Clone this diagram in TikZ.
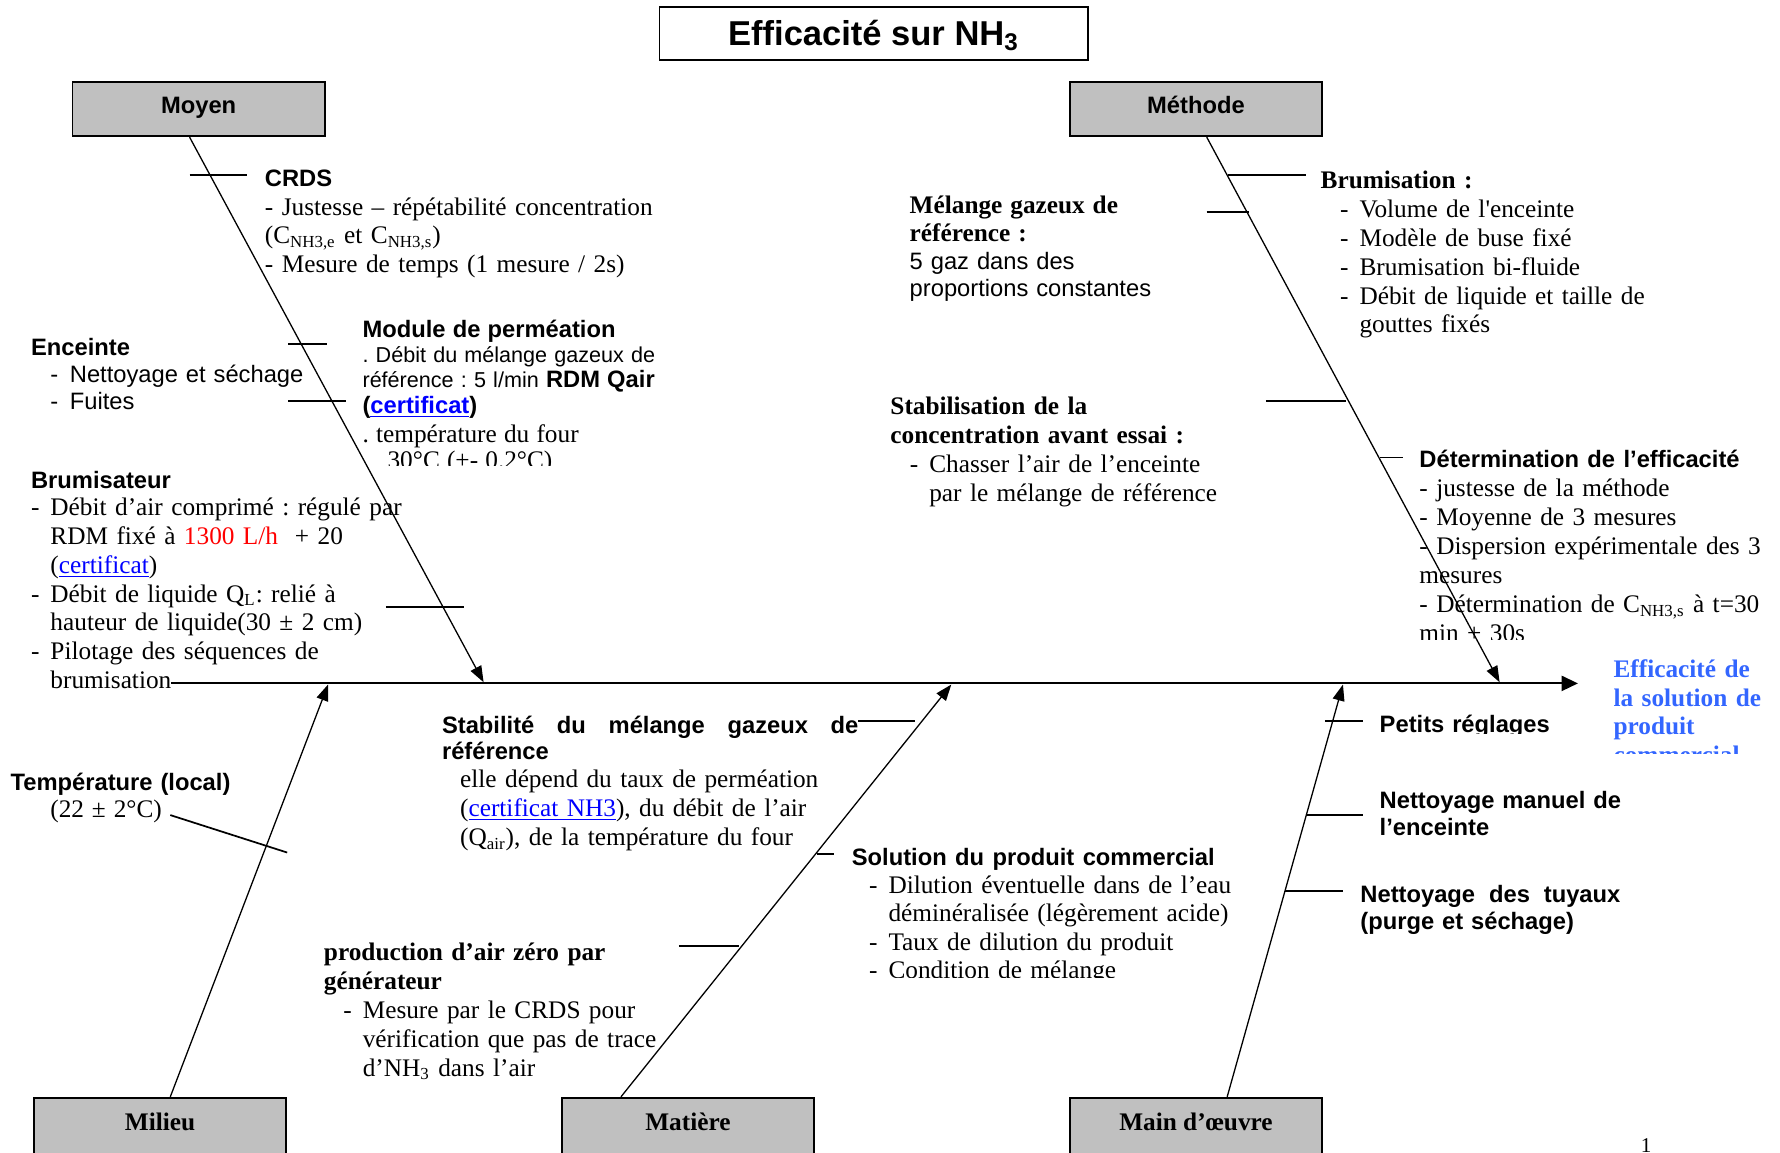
\documentclass[tikz,border=0pt]{standalone}
\usepackage{fontspec}
\setmainfont{Liberation Serif}[Scale=0.977]
\setsansfont{Liberation Sans}
\usetikzlibrary{arrows.meta,calc}

\definecolor{boxgray}{RGB}{192,192,192}
\definecolor{linkblue}{RGB}{0,0,255}
\definecolor{effblue}{RGB}{51,102,255}
\definecolor{valred}{RGB}{255,0,0}

\newcommand{\lnk}[1]{{\color{linkblue}\underline{#1}}}
\newcommand{\itm}{\makebox[9pt][l]{-}}
\newcommand{\hd}[1]{{\sffamily\bfseries\fontsize{11}{12.6}\selectfont #1}}
\newcommand{\bs}[1]{{\rmfamily\bfseries\fontsize{12}{13.4}\selectfont #1}}
\newcommand{\rs}[1]{{\rmfamily\fontsize{12}{13.4}\selectfont #1}}
\frenchspacing

\begin{document}
\begin{tikzpicture}[x=0.0185cm,y=-0.0185cm,
    catbox/.style={draw,line width=0.8pt,fill=boxgray,minimum width=117pt,
      minimum height=25.3pt,inner sep=0pt,text height=6.5pt,text depth=2.3pt,
      font=\sffamily\bfseries\fontsize{11}{13}\selectfont},
    catboxlow/.style={catbox,minimum height=27.4pt,text height=5pt,
      font=\rmfamily\bfseries\fontsize{12}{14}\selectfont},
    txt/.style={anchor=base west,inner sep=0pt,text width=240pt,align=left,
      font=\fontsize{12}{13.4}\selectfont},
    sanstxt/.style={txt,font=\sffamily\fontsize{11}{12.6}\selectfont},
    bone/.style={line width=0.6pt,-{Triangle[length=7.5pt,width=5.5pt]}},
    spine/.style={line width=1pt,-{Triangle[length=7.6pt,width=7pt]}},
    tick/.style={line width=0.8pt}]
  \useasboundingbox (0,0) rectangle (1568,1015);

  % title and the five categories
  \node[draw,line width=0.8pt,minimum width=198.5pt,minimum height=24.7pt,inner sep=0pt,
    text height=13pt,text depth=2pt,
    font=\sffamily\bfseries\fontsize{16}{18}\selectfont] (title) at (769.5,29.5)
    {Efficacité sur NH\textsubscript{3}};
  \node[catbox] (moyen) at (175,96) {Moyen};
  \node[catbox] (methode) at (1053.5,96) {Méthode};
  \node[catboxlow] (milieu) at (141,993) {Milieu};
  \node[catboxlow] (matiere) at (606,993) {Matière};
  \node[catboxlow] (mainoeuvre) at (1053.5,993) {Main d’œuvre};

  % spine and bones
  \coordinate (spineL) at (151,602);
  \coordinate (spineR) at (1390,602);
  \coordinate (moyenend) at (426,601);
  \coordinate (methodeend) at (1321,601);
  \coordinate (milieuend) at (289,603);
  \coordinate (matiereend) at (838,603);
  \coordinate (mainend) at (1183,603);
  \draw[spine] (spineL) -- (spineR);
  \draw[bone] ($(moyen.south)+(-8,0)$) -- (moyenend);
  \draw[bone] ($(methode.south)+(9.5,0)$) -- (methodeend);
  \draw[bone] ($(milieu.north)+(9,0)$) -- (milieuend);
  \draw[bone] ($(matiere.north)+(-59,0)$) -- (matiereend);
  \draw[bone] ($(mainoeuvre.north)+(27.5,0)$) -- (mainend);

  % small branches
  \draw[tick] (167,154) -- (218,154) (254,303) -- (288,303)
    (254,353) -- (305,353) (340,535) -- (409,535);
  \draw[tick] (1082,154) -- (1150,154) (1063,187) -- (1100,187)
    (1115,353) -- (1186,353) (1216,403) -- (1236,403);
  \draw[tick] (150,718) -- (253,751);
  \draw[tick] (756,635) -- (806,635) (598,833) -- (651,833) (720,752) -- (735,752);
  \draw[tick] (1167,635) -- (1201,635) (1150,718) -- (1201,718) (1132,785) -- (1183,785);

  % Moyen
  \node[txt] (crds) at (233,164) {\hd{CRDS}\\
    - Justesse – répétabilité concentration\\
    (C\textsubscript{NH3,e} et C\textsubscript{NH3,s})\\
    - Mesure de temps (1 mesure / 2s)};
  \begin{scope}
    \clip (300,260) rectangle (640,410);
    \node[txt,font=\sffamily\fontsize{10}{11.3}\selectfont] (module) at (319,297.5)
      {\hd{Module de perméation}\\
      . Débit du mélange gazeux de\\[0.5pt]
      référence : 5 l/min \hd{RDM Qair}\\[0.8pt]
      \hd{(\lnk{certificat})}\\[1.9pt]
      \rs{. température du four}\\[0.8pt]
      \rs{\hspace*{11.6pt}30°C (+- 0.2°C)}};
  \end{scope}
  \node[sanstxt] (enceinte) at (27,313) {\textbf{Enceinte}\\
    \hspace*{9pt}\itm Nettoyage et séchage\\
    \hspace*{9pt}\itm Fuites};
  \node[txt] (brumisateur) at (27,430) {\hd{Brumisateur}\\[-0.8pt]
    \itm Débit d’air comprimé : régulé par\\
    \hspace*{9pt}RDM fixé à {\color{valred}1300 L/h}\ \ + 20\\
    \hspace*{9pt}(\lnk{certificat})\\
    \itm Débit de liquide Q\textsubscript{L}: relié à\\
    \hspace*{9pt}hauteur de liquide(30 ± 2 cm)\\
    \itm Pilotage des séquences de\\
    \hspace*{9pt}brumisation};

  % Méthode
  \node[sanstxt] (melange) at (801,188) {\bs{Mélange gazeux de}\\[0.6pt]
    \bs{référence :}\\
    5 gaz dans des\\
    proportions constantes};
  \node[txt] (brumisation) at (1163,166) {\textbf{Brumisation :}\\
    \hspace*{9pt}\itm Volume de l\textquotesingle enceinte\\
    \hspace*{9pt}\itm Modèle de buse fixé\\
    \hspace*{9pt}\itm Brumisation bi-fluide\\
    \hspace*{9pt}\itm Débit de liquide et taille de\\
    \hspace*{18pt}gouttes fixés};
  \node[txt] (stabilisation) at (784,365) {\textbf{Stabilisation de la}\\
    \textbf{concentration avant essai :}\\
    \hspace*{9pt}\itm Chasser l’air de l’enceinte\\
    \hspace*{18pt}par le mélange de référence};
  \begin{scope}
    \clip (1240,380) rectangle (1568,563);
    \node[txt] (determination) at (1250,412) {\hd{Détermination de l’efficacité}\\
      - justesse de la méthode\\
      - Moyenne de 3 mesures\\
      - Dispersion expérimentale des 3\\
      mesures\\
      - Détermination de C\textsubscript{NH3,s} à t=30\\
      min + 30s};
  \end{scope}

  % effect
  \begin{scope}
    \clip (1410,570) rectangle (1568,664);
    \node[txt,font=\bfseries\fontsize{12}{13.4}\selectfont,text=effblue] (effet) at (1421,596.5)
      {Efficacité de\\ la solution de\\ produit\\ commercial};
  \end{scope}

  % Milieu
  \node[sanstxt] (temperature) at (9,696) {\textbf{Température (local)}\\
    \rs{\hspace*{18.4pt}(22 ± 2°C)}};

  % Matière
  \node[txt] (stabilite) at (389,646) {\hd{\makebox[193pt][s]{Stabilité\hfill du\hfill mélange\hfill gazeux\hfill de}}\\[-1.3pt]
    \hd{référence}\\[-0.2pt]
    \hspace*{8.4pt}elle dépend du taux de perméation\\[-0.2pt]
    \hspace*{8.4pt}(\lnk{certificat NH3}), du débit de l’air\\
    \hspace*{8.4pt}(Q\textsubscript{air}), de la température du four};
  \node[txt] (production) at (285,846) {\textbf{production d’air zéro par}\\
    \textbf{générateur}\\
    \hspace*{9pt}\itm Mesure par le CRDS pour\\
    \hspace*{18pt}vérification que pas de trace\\
    \hspace*{18pt}d’NH\textsubscript{3} dans l’air};
  \begin{scope}
    \clip (740,730) rectangle (1140,861.5);
    \node[txt,font=\fontsize{12}{13.2}\selectfont] (solution) at (750,762)
      {\hd{Solution du produit commercial}\\
      \hspace*{8pt}\itm Dilution éventuelle dans de l’eau\\
      \hspace*{17pt}déminéralisée (légèrement acide)\\
      \hspace*{8pt}\itm Taux de dilution du produit\\
      \hspace*{8pt}\itm Condition de mélange};
  \end{scope}

  % Main d'oeuvre
  \begin{scope}
    \clip (1205,615) rectangle (1400,646);
    \node[sanstxt,font=\sffamily\bfseries\fontsize{11}{12.6}\selectfont] (reglages) at (1215,645)
      {Petits réglages};
  \end{scope}
  \node[sanstxt,font=\sffamily\bfseries\fontsize{11}{12.6}\selectfont] (nettoyage) at (1215,712)
    {Nettoyage manuel de\\ l’enceinte};
  \node[sanstxt,font=\sffamily\bfseries\fontsize{11}{12.6}\selectfont] (tuyaux) at (1198,795)
    {\makebox[120.5pt][s]{Nettoyage\hfill des\hfill tuyaux}\\ (purge et séchage)};

  \node[txt,font=\fontsize{10}{12}\selectfont] (pagenum) at (1445,1015) {1};
\end{tikzpicture}
\end{document}
